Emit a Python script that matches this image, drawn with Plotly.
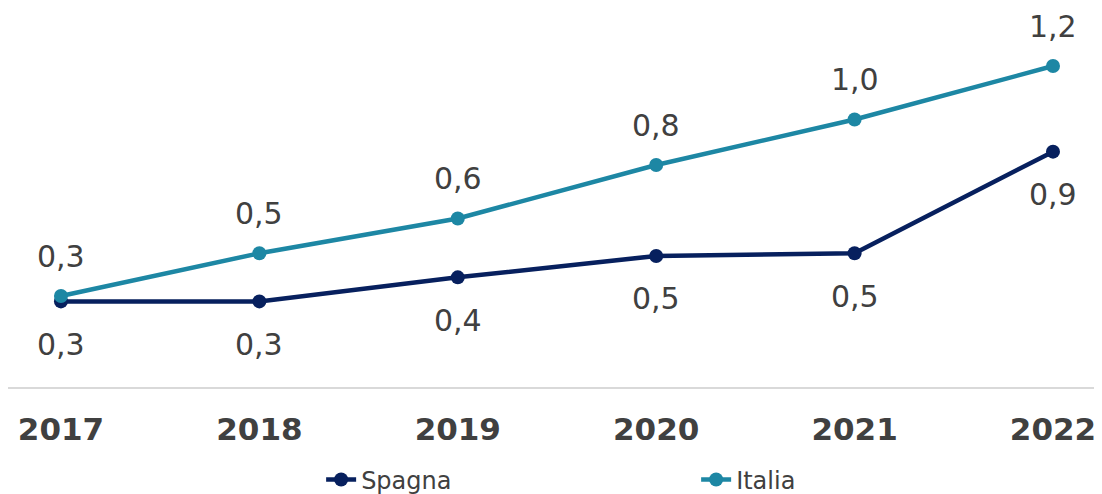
import plotly.graph_objects as go

years = ["2017", "2018", "2019", "2020", "2021", "2022"]
spagna = [0.32, 0.32, 0.41, 0.49, 0.50, 0.88]
italia = [0.34, 0.50, 0.63, 0.83, 1.00, 1.20]

navy = "#07205E"
teal = "#1D87A4"
text_grey = "#404040"
font_family = "DejaVu Sans, Noto Sans, sans-serif"

x_idx = list(range(len(years)))

fig = go.Figure()

fig.add_trace(go.Scatter(
    x=x_idx, y=spagna,
    name="Spagna",
    mode="lines+markers",
    line=dict(color=navy, width=4.5),
    marker=dict(color=navy, size=14),
))

fig.add_trace(go.Scatter(
    x=x_idx, y=italia,
    name="Italia",
    mode="lines+markers",
    line=dict(color=teal, width=4.5),
    marker=dict(color=teal, size=14),
))

# data labels: Italia above, Spagna below
for i, v in enumerate(italia):
    fig.add_annotation(
        x=i, y=v, text=f"{v:.1f}".replace(".", ","),
        showarrow=False, yshift=40, yanchor="middle",
        font=dict(size=30, color=text_grey, family=font_family),
    )
for i, v in enumerate(spagna):
    fig.add_annotation(
        x=i, y=v, text=f"{v:.1f}".replace(".", ","),
        showarrow=False, yshift=-43, yanchor="middle",
        font=dict(size=30, color=text_grey, family=font_family),
    )

# the page body adds an 8px offset, so the figure is 8px smaller than the window
fig.update_layout(
    width=1094,
    height=486,
    margin=dict(t=0, l=0, r=0, b=107, autoexpand=False),
    plot_bgcolor="white",
    paper_bgcolor="white",
    font=dict(family=font_family, color=text_grey),
    showlegend=True,
    legend=dict(
        orientation="h",
        x=0.629, xanchor="center",
        y=-0.245, yanchor="middle",
        font=dict(size=24, color=text_grey),
        entrywidth=330,
        entrywidthmode="pixels",
    ),
    xaxis=dict(
        range=[-0.267, 5.247],
        tickmode="array",
        tickvals=x_idx,
        ticktext=years,
        tickfont=dict(size=31, color=text_grey, family=font_family, weight="bold"),
        showgrid=False,
        zeroline=False,
        showline=True,
        linecolor="#D9D9D9",
        linewidth=2,
        ticks="",
        ticklabelstandoff=14,
        automargin=False,
        fixedrange=True,
    ),
    yaxis=dict(
        range=[0, 1.417],
        visible=False,
        showgrid=False,
        zeroline=False,
        fixedrange=True,
    ),
)

fig.write_html("out.html")
